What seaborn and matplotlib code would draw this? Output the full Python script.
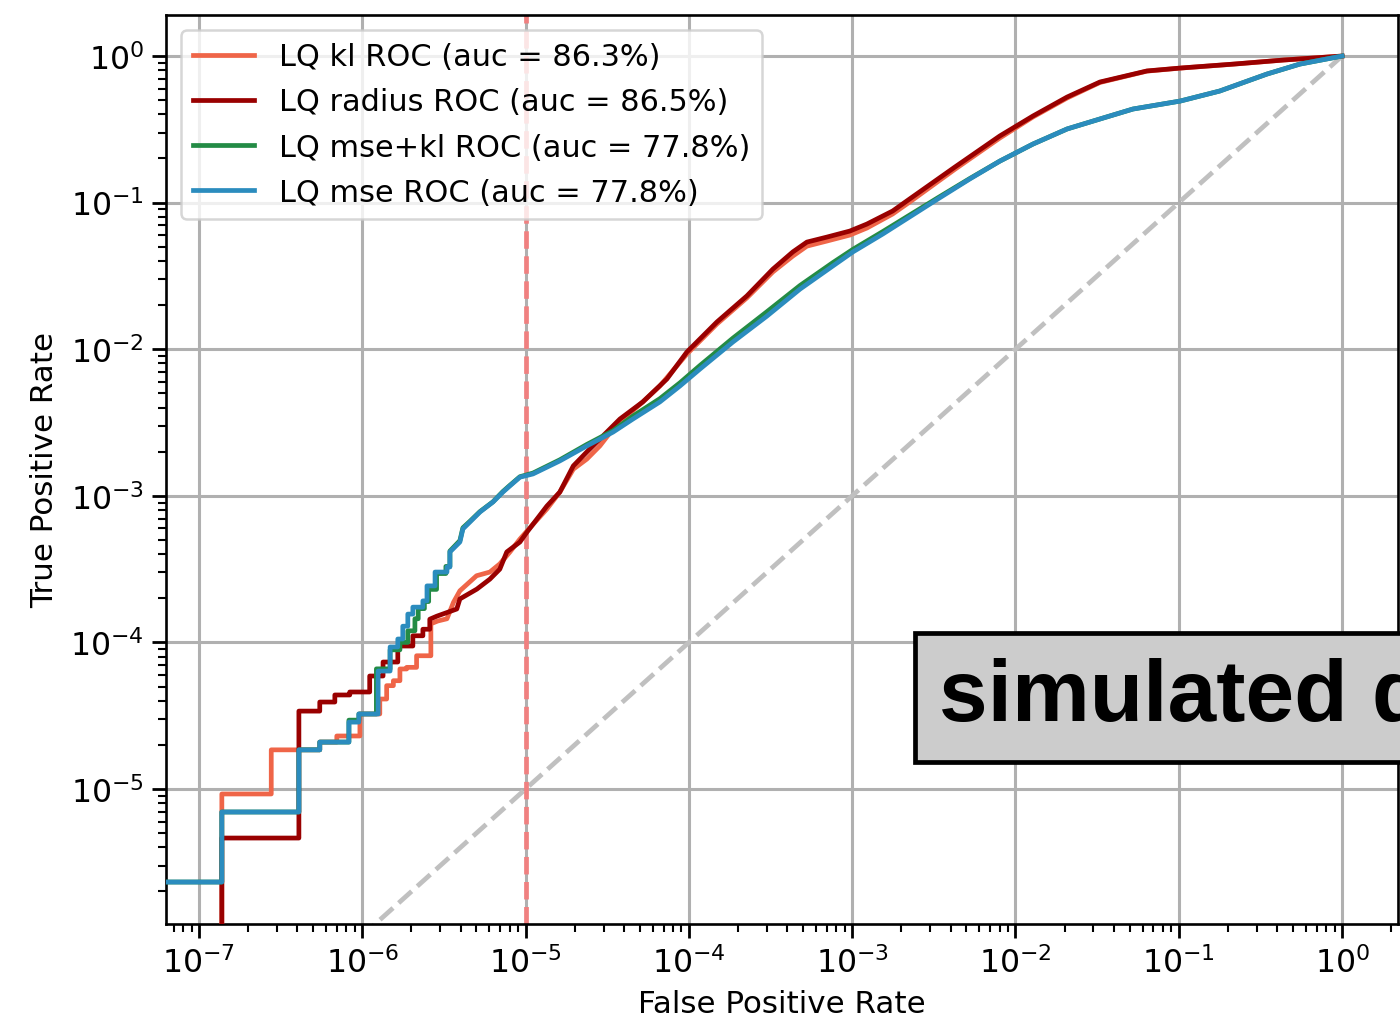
import numpy as np
import pandas as pd
import matplotlib
matplotlib.use("Agg")
import matplotlib.pyplot as plt
import seaborn as sns

# ---------------- data ----------------
labels = ["LQ kl ROC (auc = 86.3%)", "LQ radius ROC (auc = 86.5%)",
          "LQ mse+kl ROC (auc = 77.8%)", "LQ mse ROC (auc = 77.8%)"]
colors = ["#ef6548", "#990000", "#238b45", "#2b8cbe"]

fpr_kl = [1e-9, 1.38e-7, 1.38e-7, 2.77e-7, 2.77e-7, 4.09e-7, 5.49e-7, 5.49e-7, 6.98e-7, 6.98e-7,
          9.67e-7, 9.67e-7, 1.28e-6, 1.28e-6, 1.41e-6, 1.41e-6, 1.55e-6, 1.55e-6, 1.70e-6, 1.70e-6,
          1.87e-6, 1.87e-6, 2.15e-6, 2.15e-6, 2.63e-6, 2.63e-6, 2.90e-6, 3.30e-6, 3.62e-6, 3.96e-6,
          5.01e-6, 6.04e-6, 6.95e-6, 8.02e-6, 9.23e-6, 1.02e-5, 1.35e-5, 1.62e-5, 1.96e-5, 2.37e-5,
          2.85e-5, 3.43e-5, 4.16e-5, 5.22e-5, 6.64e-5, 9.72e-5, 1.484e-4, 2.265e-4, 3.27e-4, 4.33e-4,
          5.28e-4, 7.0e-4, 9.68e-4, 1.23e-3, 1.77e-3, 2.25e-3, 4.26e-3, 8.02e-3, 1.28e-2, 2.07e-2,
          3.29e-2, 6.38e-2, 1.02e-1, 2.16e-1, 4.37e-1, 1.0]
tpr_kl = [1e-9, 1e-9, 9.25e-6, 9.25e-6, 1.85e-5, 1.85e-5, 1.85e-5, 2.09e-5, 2.09e-5, 2.30e-5,
          2.30e-5, 3.25e-5, 3.25e-5, 4.11e-5, 4.11e-5, 5.07e-5, 5.07e-5, 5.48e-5, 5.48e-5, 6.59e-5,
          6.59e-5, 6.76e-5, 6.76e-5, 8.11e-5, 8.11e-5, 1.34e-4, 1.40e-4, 1.45e-4, 1.88e-4, 2.25e-4,
          2.85e-4, 3.02e-4, 3.43e-4, 4.14e-4, 5.07e-4, 5.75e-4, 8.13e-4, 1.06e-3, 1.52e-3, 1.78e-3,
          2.19e-3, 2.86e-3, 3.51e-3, 4.37e-3, 5.61e-3, 9.27e-3, 1.486e-2, 2.24e-2, 3.37e-2, 4.32e-2,
          5.05e-2, 5.47e-2, 6.01e-2, 6.71e-2, 8.37e-2, 1.01e-1, 1.69e-1, 2.76e-1, 3.84e-1, 5.17e-1,
          6.6e-1, 7.89e-1, 8.27e-1, 8.80e-1, 9.39e-1, 1.0]

fpr_radius = [1e-9, 1.38e-7, 1.38e-7, 4.09e-7, 4.09e-7, 5.49e-7, 5.49e-7, 6.79e-7, 6.79e-7, 8.38e-7,
              8.38e-7, 1.11e-6, 1.11e-6, 1.34e-6, 1.34e-6, 1.65e-6, 1.65e-6, 2.04e-6, 2.04e-6, 2.35e-6,
              2.35e-6, 2.59e-6, 2.59e-6, 2.86e-6, 3.79e-6, 3.96e-6, 5.03e-6, 6.04e-6, 6.95e-6, 7.67e-6,
              9.23e-6, 1.02e-5, 1.35e-5, 1.62e-5, 1.96e-5, 2.37e-5, 2.85e-5, 3.78e-5, 5.22e-5, 7.33e-5,
              9.72e-5, 1.484e-4, 2.265e-4, 3.27e-4, 4.33e-4, 5.28e-4, 7.0e-4, 9.68e-4, 1.23e-3, 1.77e-3,
              2.25e-3, 4.26e-3, 8.02e-3, 1.28e-2, 2.07e-2, 3.29e-2, 6.38e-2, 1.02e-1, 2.16e-1, 4.37e-1,
              1.0]
tpr_radius = [1e-9, 1e-9, 4.63e-6, 4.63e-6, 3.40e-5, 3.40e-5, 3.92e-5, 3.92e-5, 4.38e-5, 4.38e-5,
              4.59e-5, 4.59e-5, 5.90e-5, 5.90e-5, 7.35e-5, 7.35e-5, 9.45e-5, 9.45e-5, 1.11e-4, 1.11e-4,
              1.23e-4, 1.23e-4, 1.44e-4, 1.51e-4, 1.69e-4, 1.98e-4, 2.31e-4, 2.70e-4, 3.16e-4, 4.14e-4,
              4.84e-4, 5.66e-4, 8.51e-4, 1.06e-3, 1.60e-3, 1.99e-3, 2.44e-3, 3.34e-3, 4.37e-3, 6.26e-3,
              9.57e-3, 1.533e-2, 2.31e-2, 3.52e-2, 4.61e-2, 5.38e-2, 5.82e-2, 6.40e-2, 7.14e-2, 8.77e-2,
              1.06e-1, 1.75e-1, 2.85e-1, 3.90e-1, 5.25e-1, 6.65e-1, 7.91e-1, 8.28e-1, 8.81e-1, 9.39e-1,
              1.0]

fpr_msekl = [1e-9, 1.38e-7, 1.38e-7, 4.09e-7, 4.09e-7, 5.49e-7, 5.49e-7, 8.28e-7, 8.28e-7, 9.53e-7,
             9.53e-7, 1.22e-6, 1.22e-6, 1.48e-6, 1.48e-6, 1.70e-6, 1.70e-6, 1.90e-6, 1.90e-6, 2.10e-6,
             2.10e-6, 2.20e-6, 2.20e-6, 2.40e-6, 2.40e-6, 2.55e-6, 2.55e-6, 2.85e-6, 2.85e-6, 3.25e-6,
             3.25e-6, 3.44e-6, 3.44e-6, 3.96e-6, 4.13e-6, 4.56e-6, 5.25e-6, 6.31e-6, 7.26e-6, 8.02e-6,
             9.23e-6, 1.11e-5, 1.62e-5, 2.37e-5, 3.43e-5, 4.54e-5, 6.64e-5, 8.81e-5, 1.17e-4, 1.86e-4,
             3.00e-4, 4.79e-4, 7.62e-4, 1.01e-3, 1.54e-3, 3.35e-3, 5.25e-3, 8.02e-3, 1.28e-2, 2.07e-2,
             3.29e-2, 5.24e-2, 1.02e-1, 1.78e-1, 3.46e-1, 5.51e-1, 1.0]
tpr_msekl = [2.32e-6, 2.32e-6, 6.97e-6, 6.97e-6, 1.85e-5, 1.85e-5, 2.09e-5, 2.09e-5, 2.95e-5, 2.95e-5,
             3.25e-5, 3.25e-5, 6.60e-5, 6.60e-5, 8.90e-5, 8.90e-5, 1.00e-4, 1.00e-4, 1.20e-4, 1.20e-4,
             1.45e-4, 1.45e-4, 1.70e-4, 1.70e-4, 1.90e-4, 1.90e-4, 2.30e-4, 2.30e-4, 2.95e-4, 2.95e-4,
             3.30e-4, 3.30e-4, 4.20e-4, 4.95e-4, 6.05e-4, 6.70e-4, 7.80e-4, 9.10e-4, 1.07e-3, 1.18e-3,
             1.35e-3, 1.43e-3, 1.76e-3, 2.24e-3, 2.78e-3, 3.50e-3, 4.60e-3, 5.90e-3, 7.75e-3, 1.19e-2,
             1.80e-2, 2.72e-2, 3.90e-2, 4.80e-2, 6.35e-2, 1.08e-1, 1.46e-1, 1.92e-1, 2.51e-1, 3.18e-1,
             3.72e-1, 4.35e-1, 4.93e-1, 5.77e-1, 7.53e-1, 8.81e-1, 1.0]

fpr_mse = [1e-9, 1.38e-7, 1.38e-7, 4.09e-7, 4.09e-7, 5.49e-7, 5.49e-7, 8.28e-7, 8.28e-7, 9.53e-7,
           9.53e-7, 1.25e-6, 1.25e-6, 1.48e-6, 1.48e-6, 1.65e-6, 1.65e-6, 1.77e-6, 1.77e-6, 1.90e-6,
           1.90e-6, 2.04e-6, 2.04e-6, 2.35e-6, 2.35e-6, 2.49e-6, 2.49e-6, 2.79e-6, 2.79e-6, 3.30e-6,
           3.30e-6, 3.44e-6, 3.44e-6, 3.96e-6, 4.13e-6, 4.56e-6, 5.25e-6, 6.31e-6, 7.26e-6, 8.02e-6,
           9.23e-6, 1.11e-5, 1.62e-5, 2.37e-5, 3.43e-5, 4.54e-5, 6.64e-5, 8.81e-5, 1.17e-4, 1.86e-4,
           3.00e-4, 4.79e-4, 7.62e-4, 1.01e-3, 1.54e-3, 3.35e-3, 5.25e-3, 8.02e-3, 1.28e-2, 2.07e-2,
           3.29e-2, 5.24e-2, 1.02e-1, 1.78e-1, 3.46e-1, 5.51e-1, 1.0]
tpr_mse = [2.32e-6, 2.32e-6, 6.97e-6, 6.97e-6, 1.85e-5, 1.85e-5, 2.09e-5, 2.09e-5, 2.86e-5, 2.86e-5,
           3.25e-5, 3.25e-5, 6.38e-5, 6.38e-5, 9.31e-5, 9.31e-5, 1.055e-4, 1.055e-4, 1.29e-4, 1.29e-4,
           1.56e-4, 1.56e-4, 1.74e-4, 1.74e-4, 1.92e-4, 1.92e-4, 2.43e-4, 2.43e-4, 3.02e-4, 3.02e-4,
           3.27e-4, 3.27e-4, 4.14e-4, 4.84e-4, 5.94e-4, 6.63e-4, 7.75e-4, 9.07e-4, 1.06e-3, 1.17e-3,
           1.34e-3, 1.41e-3, 1.73e-3, 2.19e-3, 2.72e-3, 3.34e-3, 4.37e-3, 5.61e-3, 7.33e-3, 1.12e-2,
           1.68e-2, 2.57e-2, 3.70e-2, 4.61e-2, 6.11e-2, 1.06e-1, 1.45e-1, 1.92e-1, 2.51e-1, 3.18e-1,
           3.72e-1, 4.35e-1, 4.93e-1, 5.77e-1, 7.53e-1, 8.81e-1, 1.0]

fpr_values = [fpr_kl, fpr_radius, fpr_msekl, fpr_mse]
tpr_values = [tpr_kl, tpr_radius, tpr_msekl, tpr_mse]

diag_values = [1e-9, 1.0]
fpr_cut = 1e-5
box_text = "simulated data"
x_range = (6.28e-8, 2.2)
y_range = (1.2e-6, 1.905)

# ---------------- figure ----------------
plt.rcParams["font.family"] = ["DejaVu Sans"]
plt.rcParams["mathtext.fontset"] = "dejavusans"

fig = plt.figure(figsize=(14, 10.2), dpi=100)
ax = fig.add_axes([166 / 1400, 95 / 1020, 1232 / 1400, 909 / 1020])
ax.set_xscale("log")
ax.set_yscale("log")

for fpr, tpr, lab, col in zip(fpr_values, tpr_values, labels, colors):
    df = pd.DataFrame({"fpr": fpr, "tpr": tpr})
    sns.lineplot(data=df, x="fpr", y="tpr", sort=False, estimator=None,
                 color=col, lw=3.4, label=lab, ax=ax, zorder=3)

ax.plot(diag_values, diag_values, ls="--", color="#c0c0c0", lw=3.4, zorder=2)
ax.axvline(fpr_cut, ls="--", color="#f08080", lw=3.4, zorder=2)

ax.set_xlim(*x_range)
ax.set_ylim(*y_range)

ax.grid(True, which="major", color="#b0b0b0", lw=2.2, zorder=0)
ax.set_axisbelow(True)
for s in ax.spines.values():
    s.set_linewidth(1.9)
    s.set_color("black")

ax.tick_params(which="major", direction="out", length=10, width=2.0, labelsize=22.7, pad=6)
ax.tick_params(which="minor", direction="out", length=5.6, width=1.5)
ax.xaxis.set_major_locator(matplotlib.ticker.LogLocator(base=10, numticks=20))
ax.yaxis.set_major_locator(matplotlib.ticker.LogLocator(base=10, numticks=20))
ax.xaxis.set_minor_locator(matplotlib.ticker.LogLocator(base=10, subs=np.arange(2, 10), numticks=40))
ax.yaxis.set_minor_locator(matplotlib.ticker.LogLocator(base=10, subs=np.arange(2, 10), numticks=40))
ax.xaxis.set_minor_formatter(matplotlib.ticker.NullFormatter())
ax.yaxis.set_minor_formatter(matplotlib.ticker.NullFormatter())

ax.set_xlabel("False Positive Rate", fontsize=22.3, labelpad=7)
ax.set_ylabel("True Positive Rate", fontsize=22.3, labelpad=8)

leg = ax.legend(loc="upper left", fontsize=21.9, handlelength=2.0, handletextpad=0.8,
                framealpha=0.8, edgecolor="#cccccc", borderaxespad=0.5, labelspacing=0.53)
leg.get_frame().set_linewidth(1.8)
for h in leg.get_lines():
    h.set_linewidth(3.4)

ax.text(0.6275, 0.2241, box_text, transform=ax.transAxes, ha="left", va="baseline",
        fontsize=63, fontweight="bold", family=["Liberation Sans", "DejaVu Sans"],
        bbox=dict(boxstyle="square,pad=0.273", facecolor="#cccccc", edgecolor="black", lw=3.4),
        zorder=5, clip_on=False)

fig.savefig("out.png", dpi=100)
